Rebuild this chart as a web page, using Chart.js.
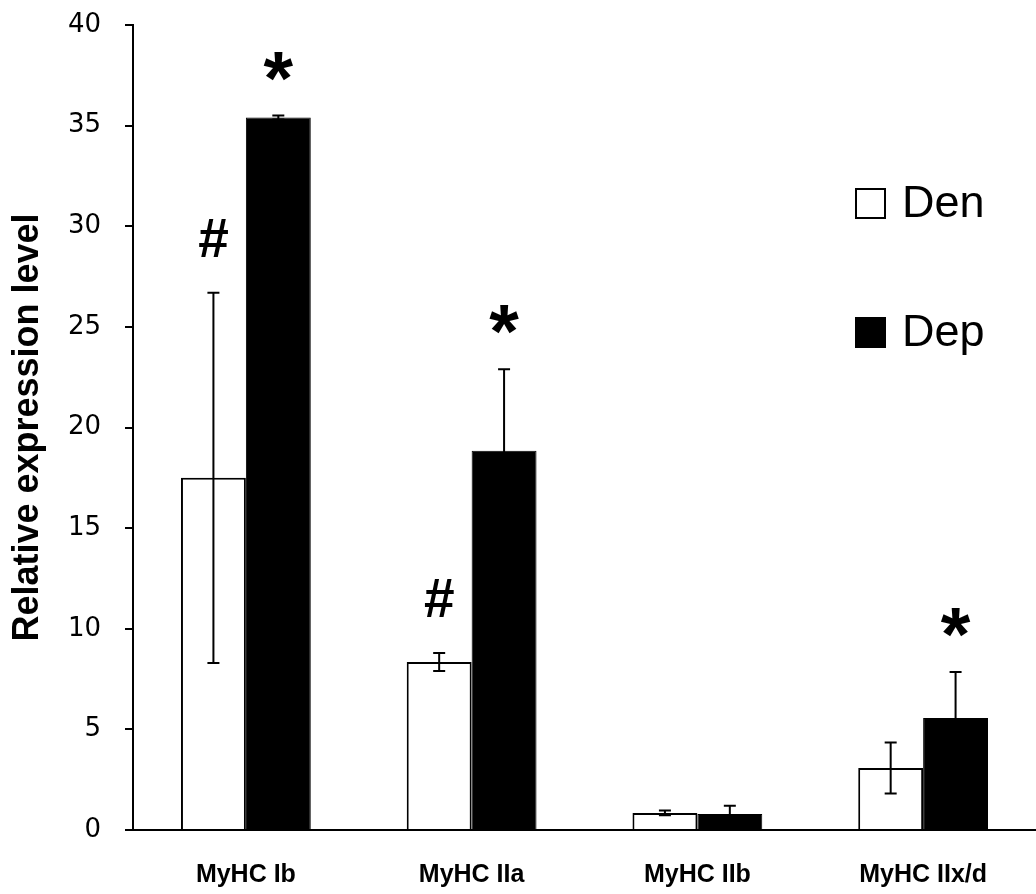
<!DOCTYPE html>
<html>
<head>
<meta charset="utf-8">
<script src="https://cdn.jsdelivr.net/npm/chart.js@4.4.1/dist/chart.umd.min.js"></script>
<style>
  html, body { margin: 0; padding: 0; background: #fff; }
  #wrap { width: 1036px; height: 894px; }
</style>
</head>
<body>
<div id="wrap"><canvas id="chart"></canvas></div>
<script>
// datos
const categories = ['MyHC Ib', 'MyHC IIa', 'MyHC IIb', 'MyHC IIx/d'];
const denValues = [17.5, 8.35, 0.85, 3.08];
const depValues = [35.4, 18.85, 0.8, 5.57];
const denErrors = [9.2, 0.45, 0.12, 1.27];
const depErrors = [0.1, 4.05, 0.4, 2.28];
const denMarks = ['#', '#', '', ''];
const depMarks = ['*', '*', '', '*'];
const yMin = 0, yMax = 40, yStep = 5;

const FONT = "'Liberation Sans', Arial, sans-serif";
const TICKFONT = "'DejaVu Sans', 'Liberation Sans', sans-serif";

// barras de error y marcas de significancia
const errorBarsPlugin = {
  id: 'errorBars',
  afterDatasetsDraw(chart) {
    const ctx = chart.ctx;
    const y = chart.scales.y;
    chart.data.datasets.forEach((ds, i) => {
      const meta = chart.getDatasetMeta(i);
      meta.data.forEach((bar, j) => {
        const v = ds.data[j], e = ds.errors[j];
        const top = y.getPixelForValue(v + e);
        const bot = y.getPixelForValue(Math.max(v - e, 0));
        ctx.save();
        ctx.strokeStyle = '#000';
        ctx.lineWidth = 2;
        ctx.beginPath();
        ctx.moveTo(bar.x, top); ctx.lineTo(bar.x, bot);
        ctx.moveTo(bar.x - 6, top); ctx.lineTo(bar.x + 6, top);
        ctx.moveTo(bar.x - 6, bot); ctx.lineTo(bar.x + 6, bot);
        ctx.stroke();
        const m = ds.marks[j];
        if (m) {
          ctx.fillStyle = '#000';
          ctx.textAlign = 'center';
          ctx.textBaseline = 'alphabetic';
          if (m === '*') {
            ctx.font = 'bold 76px ' + FONT;
            ctx.fillText(m, bar.x, top - 12);
          } else {
            ctx.font = 'bold 55px ' + FONT;
            ctx.fillText(m, bar.x, top - 36);
          }
        }
        ctx.restore();
      });
    });
  }
};

// leyenda dentro del area del grafico
const boxLegendPlugin = {
  id: 'boxLegend',
  afterDraw(chart) {
    const ctx = chart.ctx;
    const a = chart.chartArea;
    chart.data.datasets.forEach((ds, i) => {
      const bx = a.right - 180, by = a.top + 164 + i * 129;
      ctx.save();
      ctx.fillStyle = ds.backgroundColor;
      ctx.fillRect(bx, by, 29, 29);
      ctx.strokeStyle = '#000';
      ctx.lineWidth = 2;
      ctx.strokeRect(bx, by, 29, 29);
      ctx.fillStyle = '#000';
      ctx.font = '45px ' + FONT;
      ctx.textBaseline = 'middle';
      ctx.textAlign = 'left';
      ctx.fillText(ds.label, bx + 46, by + 16);
      ctx.restore();
    });
  }
};

const ctx = document.getElementById('chart').getContext('2d');
const chart = new Chart(ctx, {
  type: 'bar',
  data: {
    labels: categories,
    datasets: [{
      label: 'Den',
      data: denValues,
      errors: denErrors,
      marks: denMarks,
      backgroundColor: '#ffffff',
      borderColor: '#000000',
      borderWidth: 2,
      categoryPercentage: 0.575,
      barPercentage: 1
    }, {
      label: 'Dep',
      data: depValues,
      errors: depErrors,
      marks: depMarks,
      backgroundColor: '#000000',
      borderColor: '#000000',
      borderWidth: 1,
      categoryPercentage: 0.575,
      barPercentage: 1
    }]
  },
  options: {
    responsive: true,
    maintainAspectRatio: false,
    animation: false,
    layout: { padding: { top: 25, right: 0, left: 0, bottom: 0 } },
    plugins: {
      legend: { display: false },
      tooltip: { enabled: false }
    },
    scales: {
      x: {
        grid: { display: false },
        border: { color: '#000', width: 2 },
        ticks: {
          color: '#000',
          font: { family: FONT, size: 25, weight: 'bold' },
          padding: 22
        },
        afterFit(scale) { scale.height = 64; scale.paddingLeft = 0; scale.paddingRight = 0; }
      },
      y: {
        min: yMin,
        max: yMax,
        ticks: {
          stepSize: yStep,
          color: '#000',
          font: { family: TICKFONT, size: 26 },
          padding: 24
        },
        grid: { drawOnChartArea: false, drawTicks: true, tickLength: 8, color: '#000', lineWidth: 2 },
        border: { color: '#000', width: 2 },
        title: {
          display: true,
          text: 'Relative expression level',
          color: '#000',
          font: { family: FONT, size: 36, weight: 'bold' },
          padding: { top: 6, bottom: 0 }
        },
        afterFit(scale) { scale.width = 133; scale.paddingTop = 0; scale.paddingBottom = 0; }
      }
    }
  },
  plugins: [errorBarsPlugin, boxLegendPlugin]
});
</script>
</body>
</html>
